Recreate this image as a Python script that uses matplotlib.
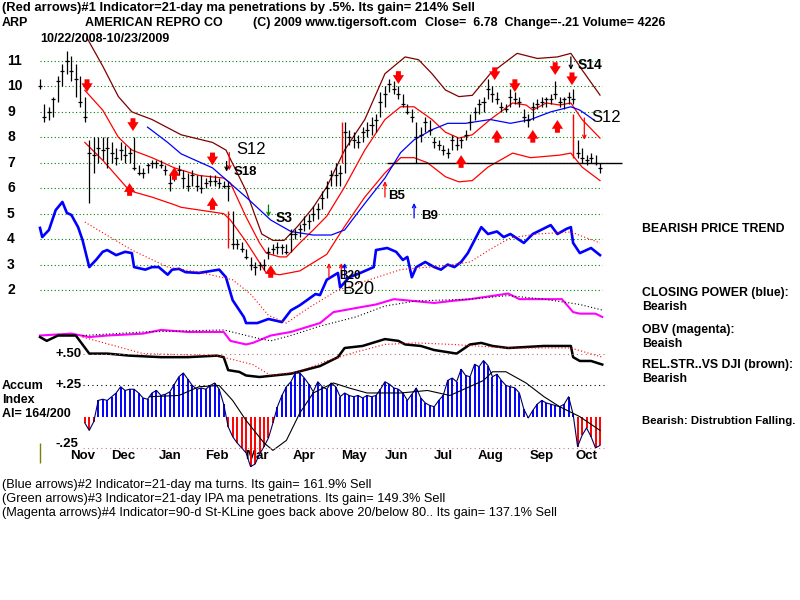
import numpy as np
import matplotlib.pyplot as plt

plt.rcParams['font.family'] = ['Liberation Sans', 'DejaVu Sans']

# price bars, one every 2 trading days from 10/22/2008
bar_days = np.arange(0, 252, 2)
highs = [10.3, 9.3, 9.2, 9.6, 10.4, 10.9, 11.4, 11.2, 10.9, 10.4,
         9.6, 7.9, 8.0, 8.0, 8.0, 8.0, 7.8, 7.6, 7.8, 7.7,
         7.6, 8.0, 6.9, 6.8, 7.0, 7.1, 7.1, 7.1, 6.9, 6.6,
         6.8, 6.9, 6.7, 6.6, 6.7, 6.5, 6.5, 6.4, 6.5, 6.5,
         6.4, 6.3, 6.3, 5.1, 4.0, 3.9, 3.6, 3.3, 3.1, 3.1,
         3.2, 3.7, 3.8, 3.9, 3.8, 3.8, 4.4, 4.4, 4.6, 4.9,
         5.0, 5.3, 5.4, 5.9, 6.3, 6.7, 7.0, 6.9, 8.6, 8.3,
         8.2, 8.1, 8.4, 8.6, 8.8, 8.9, 9.8, 10.0, 10.3, 10.2,
         10.0, 9.7, 9.3, 9.1, 8.6, 8.4, 8.8, 8.7, 8.0, 7.9,
         7.7, 7.6, 8.1, 8.0, 8.0, 8.3, 8.9, 9.2, 9.5, 9.6,
         10.3, 10.0, 9.8, 9.4, 9.3, 9.9, 9.8, 9.6, 9.1, 8.9,
         9.4, 9.5, 9.6, 9.6, 9.7, 10.2, 9.6, 9.6, 9.8, 9.9,
         7.9, 7.6, 7.3, 7.4, 7.3, 7.0]
lows = [9.9, 8.6, 8.7, 8.8, 9.4, 10.0, 10.5, 10.2, 9.6, 9.2,
        8.6, 5.4, 6.6, 7.0, 7.1, 6.8, 7.0, 6.9, 7.1, 7.0,
        7.0, 6.7, 6.5, 6.4, 6.6, 6.8, 6.8, 6.8, 6.5, 5.9,
        6.3, 6.5, 6.0, 5.9, 6.1, 5.9, 5.8, 6.0, 6.1, 6.1,
        6.0, 6.0, 5.5, 3.6, 3.6, 3.5, 3.2, 2.8, 2.6, 2.8,
        2.8, 3.2, 3.4, 3.4, 3.4, 3.4, 3.5, 4.0, 4.1, 4.3,
        4.4, 4.7, 4.8, 5.2, 5.6, 6.1, 6.1, 6.1, 6.6, 7.7,
        7.6, 7.6, 7.8, 8.0, 8.1, 8.2, 8.8, 9.2, 9.8, 9.7,
        9.5, 9.2, 8.9, 8.6, 7.0, 7.8, 8.2, 8.1, 7.6, 7.5,
        7.3, 7.2, 7.5, 7.5, 7.6, 7.9, 8.3, 8.7, 8.9, 9.0,
        9.5, 9.4, 9.3, 9.0, 9.0, 9.2, 9.3, 9.2, 8.6, 8.4,
        8.7, 9.1, 9.2, 9.2, 9.3, 9.5, 9.2, 9.1, 9.3, 9.3,
        7.2, 7.0, 6.9, 7.0, 6.9, 6.6]
closes = [10.0, 8.8, 9.0, 9.5, 10.2, 10.6, 11.0, 10.6, 10.3, 9.4,
          8.8, 7.4, 7.3, 7.6, 7.5, 7.6, 7.4, 7.2, 7.5, 7.3,
          7.4, 6.8, 6.6, 6.6, 6.9, 7.0, 7.0, 6.9, 6.7, 6.2,
          6.6, 6.7, 6.4, 6.1, 6.5, 6.1, 6.0, 6.2, 6.3, 6.3,
          6.2, 6.1, 6.1, 3.8, 3.8, 3.6, 3.3, 3.0, 2.9, 3.0,
          3.0, 3.5, 3.6, 3.7, 3.7, 3.5, 4.2, 4.2, 4.4, 4.6,
          4.7, 5.0, 5.2, 5.6, 6.0, 6.5, 6.5, 6.6, 8.2, 8.0,
          7.9, 7.8, 8.2, 8.3, 8.5, 8.7, 9.4, 9.7, 10.1, 9.9,
          9.7, 9.3, 9.0, 8.8, 8.0, 8.1, 8.6, 8.3, 7.8, 7.7,
          7.5, 7.4, 7.9, 7.7, 7.9, 8.1, 8.6, 9.0, 9.3, 9.4,
          9.9, 9.7, 9.5, 9.2, 9.1, 9.6, 9.5, 9.4, 8.8, 8.7,
          9.2, 9.3, 9.4, 9.5, 9.5, 9.7, 9.4, 9.5, 9.6, 9.5,
          7.4, 7.2, 7.1, 7.2, 7.0, 6.78]

# bands around the 21-day ma
upper_days = [20, 28, 35, 41, 50, 60, 71, 82, 85, 92, 98, 101, 107, 110, 116, 122, 128, 136,
              145, 154, 161, 167, 175, 181, 187, 193, 201, 211, 217, 220, 226, 232, 237, 242, 250]
upper_vals = [9.85, 9.07, 8.0, 7.5, 7.2, 6.8, 6.5, 6.4, 6.2, 4.87, 3.85, 3.45, 3.3, 3.3, 3.85, 4.36,
              4.9, 6.05, 7.5, 8.7, 9.2, 9.2, 8.7, 8.2, 7.97, 8.1, 8.7, 9.35, 9.27, 9.07, 9.35,
              9.27, 9.35, 8.7, 7.97]
lower_days = [20, 28, 35, 40, 50, 60, 63, 82, 85, 92, 101, 107, 116, 128, 136, 145, 154, 161,
              167, 173, 181, 187, 193, 200, 211, 219, 232, 237, 242, 250]
lower_vals = [7.8, 7.1, 6.4, 5.9, 5.65, 5.35, 5.25, 5.0, 4.75, 3.9, 2.67, 2.6, 2.75, 3.4, 4.5,
              5.65, 6.6, 7.2, 7.2, 7.0, 6.45, 6.25, 6.3, 6.83, 7.38, 7.2, 7.3, 7.38, 6.83, 6.3]
brown_days = [21, 28, 35, 41, 50, 63, 77, 83, 92, 99, 104, 109, 115, 122, 128, 136, 145, 154,
              163, 169, 175, 181, 187, 193, 201, 213, 222, 231, 237, 242, 250]
brown_vals = [11.9, 10.8, 9.6, 9.0, 8.7, 8.1, 7.8, 7.5, 5.9, 4.2, 3.95, 3.95, 4.5, 5.25, 6.05,
              7.5, 8.7, 10.5, 11.16, 11.05, 10.5, 9.86, 9.6, 9.65, 10.5, 11.3, 11.1, 11.16,
              11.3, 10.65, 9.66]
ma_days = [48, 57, 63, 77, 92, 103, 112, 122, 130, 136, 145, 154, 161, 167, 175, 182, 190,
           201, 210, 219, 228, 237, 241, 247]
ma_vals = [8.4, 7.8, 7.35, 6.8, 5.65, 4.75, 4.3, 4.16, 4.16, 4.36, 5.4, 6.4, 7.4, 7.9, 8.3,
           8.55, 8.55, 8.7, 8.55, 8.7, 9.0, 9.2, 9.07, 8.7]

# closing power (blue) and its ma
cp_days = [0, 1, 4, 7, 10, 12, 14, 17, 19, 22, 25, 28, 30, 34, 38, 41, 42, 47, 50, 53,
           57, 59, 62, 65, 71, 80, 83, 86, 91, 92, 97, 102, 108, 112, 116, 123, 125, 128,
           133, 134, 138, 143, 149, 150, 155, 159, 162, 164, 166, 168, 172, 176, 179, 182,
           185, 188, 191, 194, 197, 200, 204, 207, 210, 216, 220, 228, 231, 235, 237, 238,
           241, 246, 250]
cp_vals = [4.44, 4.08, 4.36, 5.14, 5.46, 5.03, 4.95, 4.47, 3.96, 2.9, 3.18, 3.5, 3.57, 3.37,
           3.5, 3.45, 2.9, 2.8, 2.9, 2.9, 2.6, 2.8, 2.83, 2.7, 2.67, 2.8, 2.5, 1.6, 0.94, 0.7,
           0.7, 0.86, 0.74, 1.2, 1.4, 1.84, 1.8, 2.4, 2.67, 2.1, 2.5, 2.67, 2.9, 3.57, 3.65,
           3.5, 3.18, 3.3, 2.5, 2.9, 3.1, 2.9, 2.8, 3.0, 2.9, 3.1, 3.45, 3.96, 4.47, 4.2, 4.3,
           4.08, 4.2, 3.85, 4.2, 4.55, 4.2, 4.4, 4.47, 3.85, 3.45, 3.65, 3.37]
cpma_days = [20, 41, 57, 71, 86, 94, 102, 110, 120, 133, 147, 161, 180, 192, 201, 210, 222, 237, 250]
cpma_vals = [4.67, 3.57, 2.9, 2.7, 2.4, 1.84, 1.0, 0.7, 1.3, 2.0, 2.4, 2.8, 2.95, 3.1, 3.6,
             4.05, 4.2, 4.28, 3.85]

# OBV (magenta) and its ma
obv_days = [0, 14, 22, 30, 46, 54, 66, 82, 85, 92, 95, 103, 112, 125, 131, 141, 150, 158,
            176, 184, 192, 209, 214, 233, 238, 241, 248, 251]
obv_vals = [0.21, 0.285, 0.15, 0.21, 0.285, 0.43, 0.35, 0.35, 0.0, -0.14, -0.08, 0.21, 0.35,
            0.70, 1.13, 1.29, 1.43, 1.64, 1.49, 1.57, 1.64, 1.86, 1.64, 1.64, 1.13, 1.07,
            1.07, 0.94]
obvma_days = [19, 46, 82, 95, 103, 112, 125, 141, 154, 168, 192, 209, 225, 241, 251]
obvma_vals = [0.21, 0.35, 0.43, 0.15, 0.0, 0.21, 0.58, 0.94, 1.37, 1.57, 1.64, 1.78, 1.64, 1.43, 1.21]

# relative strength vs DJI and its ma
rs_days = [0, 3, 8, 16, 22, 30, 40, 54, 66, 79, 82, 84, 89, 92, 98, 112, 125, 133, 136, 144,
           154, 160, 163, 170, 176, 186, 192, 197, 202, 209, 225, 237, 238, 241, 246, 251]
rs_vals = [0.15, 0.0, 0.21, 0.21, -0.5, -0.5, -0.58, -0.64, -0.64, -0.58, -0.64, -1.15, -1.22,
           -1.36, -1.42, -1.29, -0.99, -0.64, -0.28, -0.2, 0.07, 0.0, -0.14, -0.2, -0.36, -0.5,
           -0.14, -0.08, -0.2, -0.28, -0.2, -0.2, -0.64, -0.79, -0.79, -0.93]
rsma_days = [19, 46, 79, 95, 103, 115, 128, 141, 154, 168, 184, 209, 237, 251]
rsma_vals = [0.15, -0.5, -0.58, -0.93, -1.36, -1.22, -0.79, -0.44, -0.14, -0.08, -0.14,
             -0.28, -0.28, -0.64]

# accumulation index
ai_days = bar_days[10:]
ai_vals = [-0.05, -0.11, -0.04, 0.13, 0.14, 0.13, 0.16, 0.19, 0.24, 0.21,
           0.22, 0.22, 0.19, 0.15, 0.14, 0.19, 0.21, 0.17, 0.18, 0.20,
           0.26, 0.32, 0.35, 0.30, 0.25, 0.22, 0.23, 0.22, 0.25, 0.27,
           0.22, 0.10, -0.08, -0.16, -0.21, -0.25, -0.29, -0.40, -0.38, -0.30,
           -0.24, -0.17, -0.05, 0.08, 0.17, 0.24, 0.28, 0.35, 0.35, 0.31,
           0.26, 0.20, 0.28, 0.24, 0.22, 0.27, 0.24, 0.16, 0.19, 0.17,
           0.16, 0.17, 0.15, 0.17, 0.16, 0.17, 0.22, 0.28, 0.26, 0.23,
           0.22, 0.19, 0.13, 0.18, 0.23, 0.15, 0.11, 0.09, 0.08, 0.13,
           0.17, 0.29, 0.31, 0.28, 0.38, 0.33, 0.32, 0.42, 0.40, 0.45,
           0.41, 0.32, 0.34, 0.29, 0.25, 0.24, 0.23, 0.19, 0.06, -0.01,
           0.05, 0.10, 0.13, 0.11, 0.10, 0.09, 0.08, 0.10, 0.16, 0.02,
           -0.24, -0.15, -0.09, -0.16, -0.25, -0.23]
aima_days = [49, 62, 71, 80, 86, 92, 100, 104, 110, 116, 122, 131, 138, 146, 161, 173, 183,
             198, 202, 208, 217, 225, 232, 241, 250]
aima_vals = [0.16, 0.17, 0.24, 0.25, 0.13, -0.03, -0.21, -0.27, -0.19, 0.03, 0.19, 0.27, 0.23,
             0.19, 0.19, 0.21, 0.17, 0.29, 0.36, 0.36, 0.27, 0.16, 0.08, 0.0, -0.11]

# signals
sell_days = [21, 41.5, 77, 160, 203, 212, 230, 237.5]
sell_tips = [9.78, 8.25, 6.9, 10.1, 10.25, 9.78, 10.45, 10.05]
buy_days = [40, 60, 77, 103, 188, 204, 220, 231]
buy_tips = [6.2, 6.83, 5.65, 2.98, 7.3, 8.29, 8.29, 8.68]

month_names = ['Nov', 'Dec', 'Jan', 'Feb', 'Mar', 'Apr', 'May', 'Jun', 'Jul', 'Aug', 'Sep', 'Oct']
month_days = [19, 37, 58, 79, 97, 118, 140, 159, 180, 201, 224, 244]
price_ticks = [11, 10, 9, 8, 7, 6, 5, 4, 3, 2]

fig = plt.figure(figsize=(8, 6), dpi=100)
ax = fig.add_axes([0, 0, 1, 1])
ax.set_xlim(-17.857, 339.29)
ax.set_ylim(-10.184, 13.397)
ax.set_axis_off()

ax_ai = fig.add_axes([0, 0, 1, 1])
ax_ai.set_xlim(-17.857, 339.29)
ax_ai.set_ylim(-1.469, 3.339)
ax_ai.set_axis_off()
ax_ai.patch.set_visible(False)

# grid
ax.hlines(price_ticks, 0, 251, colors='#008000', linestyles=(0, (1, 2.2)), lw=0.8)
for v in price_ticks:
    ax.text(7 / 800, v, str(v), transform=ax.get_yaxis_transform(), fontsize=10,
            fontweight='bold', va='center', ha='left')

# bands
ax.plot(brown_days, brown_vals, color='#800000', lw=0.9)
ax.plot(upper_days, upper_vals, color='red', lw=0.9)
ax.plot(lower_days, lower_vals, color='red', lw=0.9)
ax.plot(ma_days, ma_vals, color='blue', lw=0.9)
ax.hlines(6.98, 155, 260, color='black', lw=1)

# price bars
ax.vlines(bar_days, lows, highs, color='black', lw=0.9, zorder=4)
ax.hlines(closes, bar_days - 0.9, bar_days + 0.9, color='black', lw=0.9, zorder=4)
ax.vlines([84, 135, 238], [3.65, 7.0, 7.2], [5.1, 8.6, 8.9], color='red', lw=1, zorder=5)

# indicators
ax.plot(cp_days, cp_vals, color='blue', lw=1.9)
ax.plot(cpma_days, cpma_vals, color='red', lw=0.8, ls=(0, (1, 2)))
ax.plot(obv_days, obv_vals, color='#ff00ff', lw=1.5)
ax.plot(obvma_days, obvma_vals, color='black', lw=0.8, ls=(0, (1, 2)))
ax.plot(rs_days, rs_vals, color='black', lw=1.8)
ax.plot(rsma_days, rsma_vals, color='red', lw=0.8, ls=(0, (1, 2)))

# accumulation index
ai = np.array(ai_vals)
ax_ai.vlines(ai_days, 0, ai, colors=np.where(ai >= 0, 'blue', 'red'), lw=1.4)
ax_ai.plot(ai_days, ai, color='#000060', lw=0.8)
ax_ai.plot(aima_days, aima_vals, color='black', lw=0.8)
ax_ai.hlines(0.5, 19, 252, colors='#b07070', linestyles=(0, (1, 3)), lw=0.8)
ax_ai.hlines(0.25, 19, 252, colors='black', linestyles=(0, (1, 3)), lw=0.8)
ax_ai.hlines(-0.25, 19, 252, colors='#c08080', linestyles=(0, (1, 3)), lw=0.8)
ax_ai.vlines(0, -0.37, -0.21, color='#808000', lw=1)
for v, lab in [(0.5, '+.50'), (0.25, '+.25'), (-0.22, '-.25')]:
    ax_ai.text(55 / 800, v, lab, transform=ax_ai.get_yaxis_transform(), fontsize=9.5,
               fontweight='bold', va='center', ha='left')

for d, name in zip(month_days, month_names):
    ax.text(d, 1 - 456 / 600, name, transform=ax.get_xaxis_transform(), fontsize=9.5,
            fontweight='bold', ha='center', va='center')

# signal arrows
thick = 'simple,head_width=0.9,head_length=0.7,tail_width=0.4'
for d, tip in zip(sell_days, sell_tips):
    ax.annotate('', xy=(d, tip), xytext=(d, tip + 0.5),
                arrowprops=dict(arrowstyle=thick, color='red', lw=0, mutation_scale=9,
                                shrinkA=0, shrinkB=0), zorder=6)
for d, tip in zip(buy_days, buy_tips):
    ax.annotate('', xy=(d, tip), xytext=(d, tip - 0.5),
                arrowprops=dict(arrowstyle=thick, color='red', lw=0, mutation_scale=9,
                                shrinkA=0, shrinkB=0), zorder=6)

thin = [(84.5, 7.4, 6.7, 'red'), (83.3, 7.05, 6.65, 'black'), (102, 5.34, 4.87, 'green'),
        (154, 5.65, 6.28, 'red'), (167, 4.83, 5.42, 'blue'), (237, 11.16, 10.65, 'black'),
        (243, 8.76, 7.9, 'red'), (129, 2.5, 3.06, 'red'), (134.5, 2.5, 3.06, 'red'),
        (136, 2.5, 3.06, 'blue')]
for d, y0, y1, c in thin:
    ax.annotate('', xy=(d, y1), xytext=(d, y0),
                arrowprops=dict(arrowstyle='->', color=c, lw=0.9, mutation_scale=6,
                                shrinkA=0, shrinkB=0), zorder=6)

labels = [('S12', 87.5, 7.54, 12, 'normal'), ('S18', 86.6, 6.64, 9.5, 'bold'),
          ('S3', 105, 4.83, 10, 'bold'), ('B5', 155.4, 5.69, 9.5, 'bold'),
          ('B9', 170, 4.9, 9.5, 'bold'), ('S14', 240, 10.84, 10, 'bold'),
          ('S12', 246, 8.76, 12, 'normal'), ('B20', 135, 2.0, 13, 'normal'),
          ('B20', 133.5, 2.55, 8.5, 'bold')]
for s, d, v, fs, fw in labels:
    ax.text(d, v, s, fontsize=fs, fontweight=fw, ha='left', va='center', zorder=7)


# header and side texts
def ftext(px, py, s, size=9, weight='bold'):
    fig.text(px / 800, 1 - py / 600, s, fontsize=size, fontweight=weight,
             ha='left', va='center')


ftext(2, 8, '(Red arrows)#1 Indicator=21-day ma penetrations by .5%. Its gain= 214% Sell', size=9.4)
ftext(2, 23, 'ARP')
ftext(85, 23, 'AMERICAN REPRO CO')
ftext(253, 23, '(C) 2009 www.tigersoft.com')
ftext(425, 23, 'Close=  6.78  Change=-.21 Volume= 4226')
ftext(40, 39, '10/22/2008-10/23/2009')

ftext(642, 229, 'BEARISH PRICE TREND', size=8.8)
ftext(642, 293, 'CLOSING POWER (blue):', size=8.8)
ftext(642, 307, 'Bearish', size=8.8)
ftext(642, 330, 'OBV (magenta):', size=8.8)
ftext(642, 344, 'Beaish', size=8.8)
ftext(642, 365, 'REL.STR..VS DJI (brown):', size=8.8)
ftext(642, 379, 'Bearish', size=8.8)
ftext(642, 421, 'Bearish: Distrubtion Falling.', size=8.2)

ftext(2, 386, 'Accum')
ftext(2, 400, 'Index')
ftext(2, 414, 'AI= 164/200')

ftext(2, 485, '(Blue arrows)#2 Indicator=21-day ma turns. Its gain= 161.9% Sell', size=9.2, weight='normal')
ftext(2, 499, '(Green arrows)#3 Indicator=21-day IPA ma penetrations. Its gain= 149.3% Sell', size=9.2, weight='normal')
ftext(2, 513, '(Magenta arrows)#4 Indicator=90-d St-KLine goes back above 20/below 80.. Its gain= 137.1% Sell', size=9.2, weight='normal')

fig.savefig('out.png', dpi=100)
